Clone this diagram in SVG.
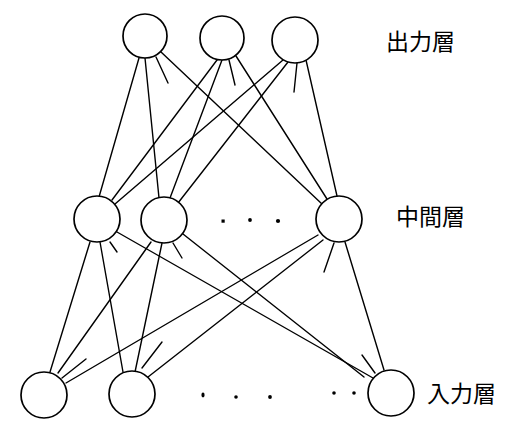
<svg xmlns="http://www.w3.org/2000/svg" width="507" height="443" viewBox="0 0 507 443">
<style>
.n{fill:#fff;stroke:#000;stroke-width:1.7}
.c line{stroke:#000;stroke-width:1.4;stroke-linecap:round}
.d{fill:#000}
.t{font-family:"Noto Sans CJK JP","Noto Sans CJK SC",sans-serif;font-size:23px;font-weight:400;fill:#000}
</style>
<rect width="507" height="443" fill="#fff"/>
<g id="connectors" class="c">
<line x1="139" y1="58" x2="99" y2="197"/>
<line x1="145" y1="58" x2="159" y2="198"/>
<line x1="156" y1="57" x2="168" y2="83"/>
<line x1="161" y1="52" x2="322" y2="204"/>
<line x1="217" y1="60" x2="112" y2="200"/>
<line x1="222" y1="60" x2="170" y2="198"/>
<line x1="229" y1="60" x2="235" y2="85"/>
<line x1="236" y1="56" x2="327" y2="199"/>
<line x1="283" y1="60" x2="115" y2="204"/>
<line x1="288" y1="62" x2="178" y2="203"/>
<line x1="297" y1="63" x2="294" y2="92"/>
<line x1="306" y1="60" x2="337" y2="196"/>
<line x1="90" y1="242" x2="50" y2="372"/>
<line x1="100" y1="242" x2="123" y2="372"/>
<line x1="110" y1="242" x2="117" y2="252"/>
<line x1="117" y1="232" x2="373" y2="378"/>
<line x1="151" y1="242" x2="58" y2="373"/>
<line x1="162" y1="243" x2="135" y2="372"/>
<line x1="173" y1="243" x2="182" y2="258"/>
<line x1="183" y1="234" x2="364" y2="377"/>
<line x1="318" y1="235" x2="66" y2="383"/>
<line x1="323" y1="240" x2="148" y2="377"/>
<line x1="334" y1="243" x2="324" y2="272"/>
<line x1="345" y1="242" x2="384" y2="370"/>
<line x1="62" y1="378" x2="86" y2="359"/>
<line x1="142" y1="368" x2="162" y2="342"/>
<line x1="362" y1="355" x2="375" y2="373"/>
</g>
<g id="out1"><circle class="n" cx="145" cy="36" r="22"/></g>
<g id="out2"><circle class="n" cx="222" cy="38" r="22"/></g>
<g id="out3"><circle class="n" cx="295" cy="40" r="23"/></g>
<g id="mid1"><circle class="n" cx="97" cy="219" r="23"/></g>
<g id="mid2"><circle class="n" cx="164" cy="220" r="23"/></g>
<g id="mid3"><circle class="n" cx="339" cy="219" r="23"/></g>
<g id="in1"><circle class="n" cx="44" cy="395" r="23"/></g>
<g id="in2"><circle class="n" cx="132" cy="394" r="23"/></g>
<g id="in3"><circle class="n" cx="391" cy="393" r="23"/></g>
<g id="dots">
<rect class="d" x="221.5" y="219.5" width="3.2" height="3.2"/>
<circle class="d" cx="250" cy="220" r="1.9"/>
<circle class="d" cx="278" cy="221" r="2.1"/>
<ellipse class="d" cx="203" cy="395" rx="1.6" ry="2.4"/>
<circle class="d" cx="236" cy="397" r="1.8"/>
<circle class="d" cx="270" cy="397" r="1.9"/>
<circle class="d" cx="334" cy="393" r="1.8"/>
<circle class="d" cx="354" cy="393" r="1.8"/>
</g>
<g id="labels">
<text class="t" x="386" y="50">出力層</text>
<text class="t" x="396" y="225">中間層</text>
<text class="t" x="427" y="402">入力層</text>
</g>
</svg>
